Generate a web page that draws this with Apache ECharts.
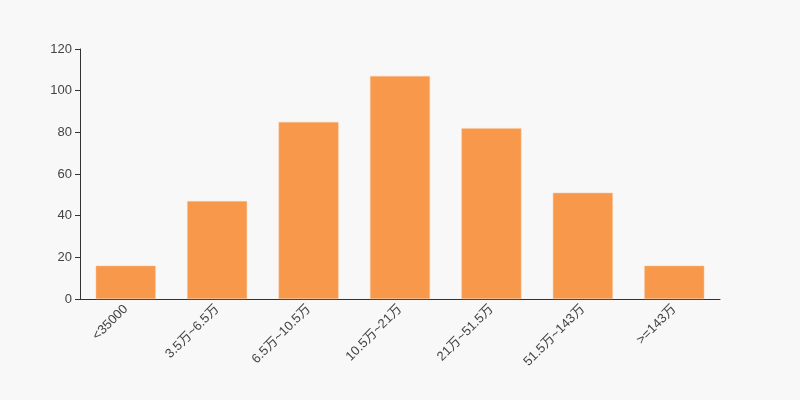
<!DOCTYPE html>
<html>
<head>
<meta charset="utf-8">
<script src="https://cdn.jsdelivr.net/npm/echarts@6/dist/echarts.min.js"></script>
<style>
html,body{margin:0;padding:0;background:#f8f8f8;}
#main{width:800px;height:400px;}
</style>
</head>
<body>
<div id="main"></div>
<script>
var categories = ['<35000', '3.5万~6.5万', '6.5万~10.5万', '10.5万~21万', '21万~51.5万', '51.5万~143万', '>=143万'];
var values = [16, 47, 85, 107, 82, 51, 16];

var chart = echarts.init(document.getElementById('main'));
chart.setOption({
  backgroundColor: '#f8f8f8',
  animation: false,
  grid: { left: 80, right: 80, top: 49, bottom: 101 },
  xAxis: {
    type: 'category',
    data: categories,
    axisLine: { lineStyle: { color: '#333' } },
    axisTick: { lineStyle: { color: '#333' } },
    axisLabel: { rotate: 45, color: '#444', fontSize: 13, fontFamily: 'Liberation Sans, Noto Sans CJK SC, sans-serif', interval: 0 }
  },
  yAxis: {
    type: 'value',
    min: 0, max: 120, interval: 20,
    axisLine: { show: true, lineStyle: { color: '#333' } },
    axisTick: { show: true, lineStyle: { color: '#333' } },
    splitLine: { show: false },
    axisLabel: { color: '#444', fontSize: 13, fontFamily: 'Liberation Sans, sans-serif' }
  },
  series: [{
    type: 'bar',
    data: values,
    barWidth: 60,
    itemStyle: { color: '#f7984a', borderColor: '#fbc9a0', borderWidth: 0.5 }
  }]
});
</script>
</body>
</html>
